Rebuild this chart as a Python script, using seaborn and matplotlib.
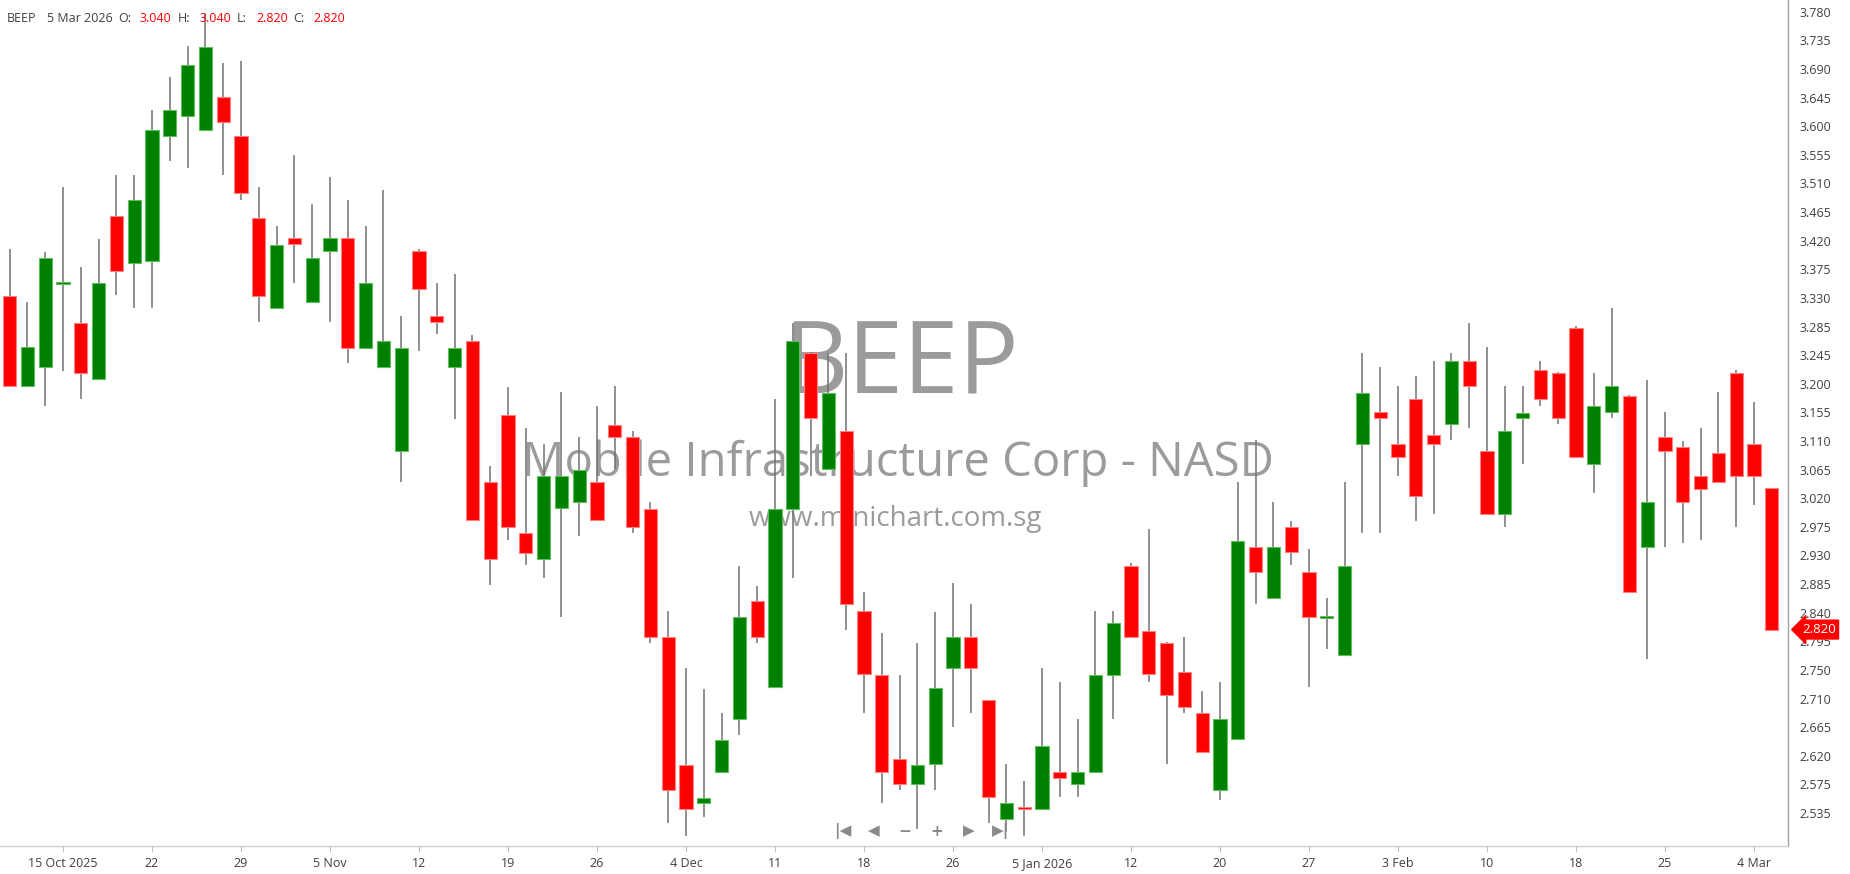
import matplotlib
matplotlib.use("Agg")
import matplotlib.pyplot as plt
import numpy as np
import pandas as pd
import seaborn as sns

TICKER = "BEEP"
COMPANY = "Mobile Infrastructure Corp - NASD"
SITE = "www.minichart.com.sg"

# US market holidays inside the window
HOLIDAYS = ["2025-11-27", "2025-12-25", "2026-01-01", "2026-01-19", "2026-02-16"]

OPEN = [3.338, 3.199, 3.228, 3.357, 3.297, 3.209, 3.462, 3.389, 3.393, 3.587,
        3.618, 3.597, 3.647, 3.587, 3.459, 3.319, 3.428, 3.329, 3.409, 3.428,
        3.258, 3.228, 3.098, 3.408, 3.307, 3.228, 3.268, 3.049, 3.154, 2.970,
        2.929, 3.009, 3.019, 3.049, 3.138, 3.119, 3.008, 2.808, 2.610, 2.551,
        2.599, 2.681, 2.864, 2.730, 3.008, 3.249, 3.070, 3.129, 2.849, 2.750,
        2.619, 2.580, 2.611, 2.760, 2.808, 2.710, 2.525, 2.544, 2.541, 2.599,
        2.580, 2.599, 2.750, 2.919, 2.818, 2.799, 2.754, 2.690, 2.571, 2.650,
        2.948, 2.869, 2.979, 2.909, 2.838, 2.780, 3.109, 3.158, 3.109, 3.179,
        3.123, 3.139, 3.237, 3.098, 2.999, 3.149, 3.223, 3.218, 3.288, 3.078,
        3.158, 3.183, 2.948, 3.119, 3.104, 3.059, 3.094, 3.218, 3.109, 3.040]
HIGH = [3.411, 3.329, 3.407, 3.507, 3.383, 3.427, 3.526, 3.526, 3.627, 3.678,
        3.727, 3.776, 3.701, 3.703, 3.507, 3.447, 3.557, 3.482, 3.523, 3.488,
        3.447, 3.503, 3.307, 3.411, 3.358, 3.373, 3.278, 3.074, 3.197, 3.133,
        3.109, 3.189, 3.119, 3.167, 3.198, 3.129, 3.018, 2.849, 2.760, 2.728,
        2.690, 2.919, 2.887, 3.179, 3.297, 3.251, 3.249, 3.249, 2.878, 2.814,
        2.750, 2.799, 2.847, 2.892, 2.859, 2.711, 2.611, 2.585, 2.760, 2.738,
        2.681, 2.849, 2.849, 2.923, 2.976, 2.801, 2.808, 2.725, 2.738, 3.049,
        3.115, 3.018, 2.989, 2.945, 2.869, 3.049, 3.249, 3.228, 3.199, 3.214,
        3.237, 3.249, 3.297, 3.259, 3.199, 3.199, 3.237, 3.220, 3.291, 3.218,
        3.319, 3.185, 3.208, 3.158, 3.113, 3.133, 3.189, 3.224, 3.174, 3.040]
LOW = [3.197, 3.199, 3.168, 3.222, 3.179, 3.209, 3.340, 3.319, 3.319, 3.548,
       3.538, 3.595, 3.527, 3.488, 3.298, 3.318, 3.358, 3.329, 3.298, 3.234,
       3.258, 3.228, 3.050, 3.253, 3.279, 3.147, 2.990, 2.889, 2.959, 2.920,
       2.900, 2.840, 2.966, 2.990, 3.069, 2.970, 2.799, 2.520, 2.500, 2.529,
       2.599, 2.656, 2.799, 2.730, 2.900, 3.058, 3.070, 2.819, 2.690, 2.551,
       2.570, 2.510, 2.570, 2.669, 2.690, 2.519, 2.505, 2.500, 2.541, 2.560,
       2.560, 2.599, 2.681, 2.809, 2.739, 2.611, 2.690, 2.630, 2.555, 2.650,
       2.859, 2.869, 2.920, 2.730, 2.790, 2.780, 2.970, 2.970, 3.059, 2.989,
       2.999, 3.114, 3.133, 2.999, 2.979, 3.078, 3.167, 3.139, 3.088, 3.033,
       3.148, 2.878, 2.774, 2.948, 2.954, 2.959, 3.049, 2.979, 3.014, 2.820]
CLOSE = [3.199, 3.259, 3.398, 3.357, 3.218, 3.358, 3.377, 3.488, 3.596, 3.627,
         3.697, 3.726, 3.609, 3.498, 3.338, 3.418, 3.419, 3.398, 3.428, 3.258,
         3.358, 3.268, 3.258, 3.349, 3.298, 3.258, 2.990, 2.929, 2.979, 2.939,
         3.059, 3.059, 3.068, 2.990, 3.119, 2.979, 2.809, 2.571, 2.541, 2.559,
         2.649, 2.839, 2.809, 3.008, 3.268, 3.149, 3.188, 2.859, 2.751, 2.599,
         2.580, 2.610, 2.729, 2.808, 2.760, 2.560, 2.550, 2.541, 2.639, 2.590,
         2.599, 2.750, 2.830, 2.809, 2.751, 2.719, 2.700, 2.630, 2.681, 2.958,
         2.910, 2.948, 2.940, 2.840, 2.838, 2.919, 3.188, 3.149, 3.088, 3.028,
         3.109, 3.237, 3.199, 2.999, 3.129, 3.157, 3.179, 3.149, 3.088, 3.167,
         3.199, 2.878, 3.018, 3.098, 3.018, 3.039, 3.049, 3.059, 3.059, 2.820]

PRICE_LABELS = ["2.535", "2.575", "2.620", "2.665", "2.710", "2.750", "2.795",
                "2.840", "2.885", "2.930", "2.975", "3.020", "3.065", "3.110",
                "3.155", "3.200", "3.245", "3.285", "3.330", "3.375", "3.420",
                "3.465", "3.510", "3.555", "3.600", "3.645", "3.690", "3.735",
                "3.780"]

DATE_TICKS = ["2025-10-15", "2025-10-22", "2025-10-29", "2025-11-05", "2025-11-12",
              "2025-11-19", "2025-11-26", "2025-12-04", "2025-12-11", "2025-12-18",
              "2025-12-26", "2026-01-05", "2026-01-12", "2026-01-20", "2026-01-27",
              "2026-02-03", "2026-02-10", "2026-02-18", "2026-02-25", "2026-03-04"]
DATE_LABELS = ["15 Oct 2025", "22", "29", "5 Nov", "12", "19", "26", "4 Dec", "11",
               "18", "26", "5 Jan 2026", "12", "20", "27", "3 Feb", "10", "18",
               "25", "4 Mar"]

GREEN = "#008000"
RED = "#ff0000"
WICK = "#727272"
WATERMARK = "#9b9b9b"
TEXT = "#404040"

sns.set_theme(style="white")
plt.rcParams["font.family"] = ["Open Sans", "DejaVu Sans"]

dates = pd.bdate_range("2025-10-10", "2026-03-05", freq="C", holidays=HOLIDAYS)
df = pd.DataFrame({"date": dates, "open": OPEN, "high": HIGH, "low": LOW, "close": CLOSE})
df["pos"] = np.arange(len(df))
up = df["close"] >= df["open"]

fig = plt.figure(figsize=(18.5, 8.74), dpi=100)
ax = fig.add_axes([0, 28 / 874, 1788 / 1850, 846 / 874])

# watermark behind the candles
ax.text(0.504, 0.566, TICKER, transform=ax.transAxes, ha="center", va="center",
        fontsize=72, color=WATERMARK, zorder=0)
ax.text(0.502, 0.452, COMPANY, transform=ax.transAxes, ha="center", va="center",
        fontsize=34, color=WATERMARK, zorder=0)
ax.text(0.501, 0.387, SITE, transform=ax.transAxes, ha="center", va="center",
        fontsize=20, color=WATERMARK, zorder=0)

ax.vlines(df["pos"], df["low"], df["high"], color=WICK, linewidth=1.1, zorder=2)
body_low = np.minimum(df["open"], df["close"])
body_h = np.maximum((df["close"] - df["open"]).abs(), 0.003)
ax.bar(df["pos"], body_h, bottom=body_low, width=0.74,
       color=np.where(up, GREEN, RED),
       edgecolor=np.where(up, "#5fbf5f", "#ff8080"), linewidth=0.8, zorder=3)

ax.set_xlim(-0.54, 99.91)
ax.set_ylim(2.4837, 3.7983)

tick_pos = [df.index[df["date"] == pd.Timestamp(d)][0] for d in DATE_TICKS]
ax.set_xticks(tick_pos)
ax.set_xticklabels(DATE_LABELS)
ax.set_yticks(np.linspace(2.535, 3.780, len(PRICE_LABELS)))
ax.set_yticklabels(PRICE_LABELS)
ax.yaxis.tick_right()
ax.tick_params(axis="both", which="major", labelsize=9, colors=TEXT,
               length=4, width=0.8, direction="out", pad=4, bottom=True, right=True)
ax.tick_params(axis="x", color="#c0c0c0")
ax.tick_params(axis="y", color="#a0a0a0")

sns.despine(ax=ax, left=True, top=True, right=False, bottom=False)
ax.spines["right"].set_color("#a0a0a0")
ax.spines["bottom"].set_color("#d0d0d0")
ax.spines["right"].set_linewidth(1.0)
ax.spines["bottom"].set_linewidth(1.0)
ax.grid(False)

# last price marker on the price axis
last = df.iloc[-1]
ax.annotate(f"{last['close']:.3f}", xy=(1.0, last["close"]),
            xycoords=("axes fraction", "data"), xytext=(10, 0), textcoords="offset points",
            ha="left", va="center", fontsize=9.5, color="white",
            bbox=dict(boxstyle="larrow,pad=0.22", fc=RED, ec=RED), zorder=5,
            annotation_clip=False)

# header line with OHLC of the last bar
hdr_y = 1 - 18 / 874
pieces = [(7, TICKER, TEXT), (47, last["date"].strftime("%-d %b %Y"), TEXT),
          (118, "O:", TEXT), (140, f"{last['open']:.3f}", RED),
          (178, "H:", TEXT), (199, f"{last['high']:.3f}", RED),
          (237, "L:", TEXT), (256, f"{last['low']:.3f}", RED),
          (293, "C:", TEXT), (313, f"{last['close']:.3f}", RED)]
for px, txt, col in pieces:
    fig.text(px / 1850, hdr_y, txt, ha="left", va="center", fontsize=9, color=col)

# navigation buttons at the bottom of the chart
nav = [(843, "|◀"), (874, "◀"), (905, "−"), (937, "+"), (969, "▶"), (1001, "▶|")]
for px, sym in nav:
    fig.text(px / 1850, 1 - 831 / 874, sym, ha="center", va="center", fontsize=11,
             color="#8a8a8a", family=["DejaVu Sans"], fontweight="bold")

fig.savefig("out.png", dpi=100, facecolor="white")
